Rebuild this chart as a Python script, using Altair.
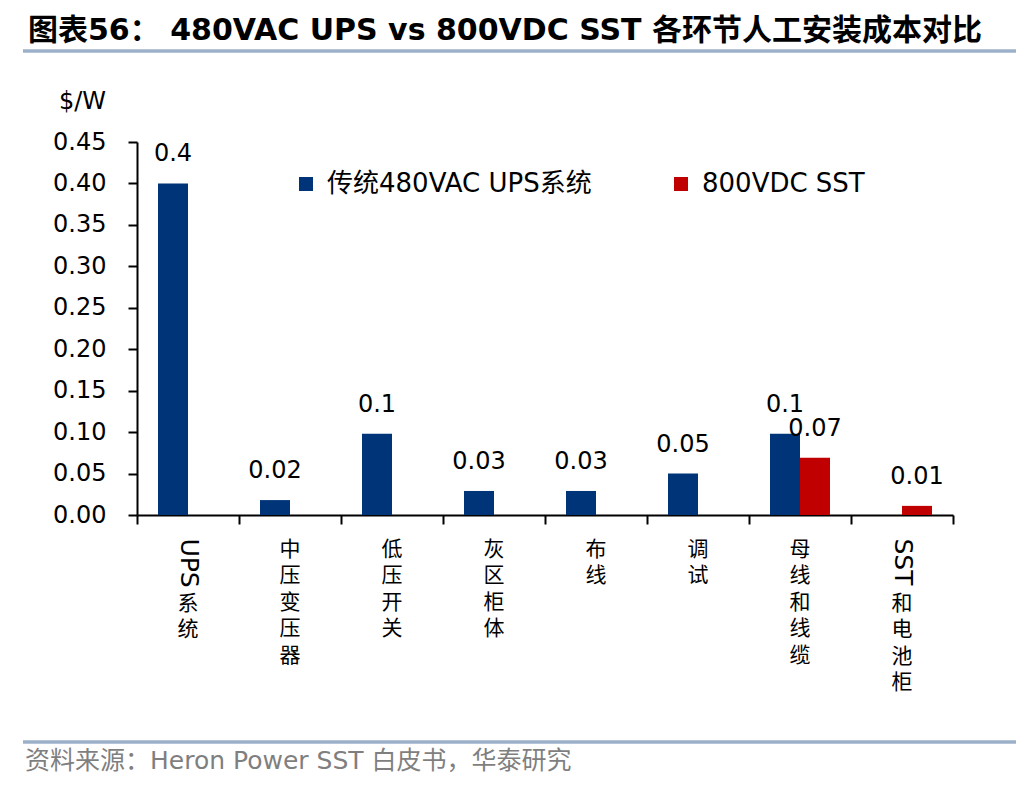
import altair as alt
import pandas as pd

CATS = ["UPS系统", "中压变压器", "低压开关", "灰区柜体", "布线", "调试", "母线和线缆", "SST和电池柜"]
SERIES = ["传统480VAC UPS系统", "800VDC SST"]
UPS_VALS = [0.40, 0.018, 0.098, 0.029, 0.029, 0.05, 0.098, None]
SST_VALS = [None, None, None, None, None, None, 0.069, 0.011]
UPS_LABELS = ["0.4", "0.02", "0.1", "0.03", "0.03", "0.05", "0.1", None]
SST_LABELS = [None, None, None, None, None, None, "0.07", "0.01"]
Y_TICKS = [0, 0.05, 0.10, 0.15, 0.20, 0.25, 0.30, 0.35, 0.40, 0.45]
COLORS = ["#003478", "#C00000"]

TITLE = "图表56：  480VAC UPS vs 800VDC SST 各环节人工安装成本对比"
SOURCE = "资料来源：Heron Power SST 白皮书，华泰研究"
Y_TITLE = "$/W"

rows = []
for c, v, l in zip(CATS, UPS_VALS, UPS_LABELS):
    if v is not None:
        rows.append({"cat": c, "series": SERIES[0], "value": v, "label": l})
for c, v, l in zip(CATS, SST_VALS, SST_LABELS):
    if v is not None:
        rows.append({"cat": c, "series": SERIES[1], "value": v, "label": l})
df = pd.DataFrame(rows)

FONT = "DejaVu Sans, Noto Sans CJK SC"
CJK = "Noto Sans CJK SC"
W, H = 816, 373

xscale = alt.Scale(domain=CATS, paddingInner=0, paddingOuter=0)
yscale = alt.Scale(domain=[0, 0.45], nice=False, zero=True)
xoff = alt.XOffset("series:N", scale=alt.Scale(domain=SERIES, paddingInner=0, paddingOuter=0.7))

HAS_LATIN = "test(regexp('[A-Za-z]'), datum.label)"

# axis A: domain, ticks and the rotated Latin part of each category label
axis_a = alt.Axis(
    orient="bottom", title=None, domainColor="black", domainWidth=2,
    tickColor="black", tickWidth=2, tickSize=9, tickBand="extent",
    labelExpr="replace(datum.label, regexp('[^A-Za-z]', 'g'), '')",
    labelAngle=90, labelAlign="left", labelBaseline="middle",
    labelFont="DejaVu Sans", labelFontSize=25, labelColor="black",
    labelPadding=14, labelOverlap=False, labelFlush=False, labelBound=False,
)
cjk_common = dict(
    orient="bottom", title=None, domain=False, ticks=False,
    labelAngle=0, labelAlign="center", labelBaseline="top",
    labelFont=CJK, labelFontSize=21, labelLineHeight=26.6, labelColor="black",
    labelOverlap=False, labelFlush=False, labelBound=False,
)
# axis B: upright stacked CJK labels of purely Chinese categories
axis_b = alt.Axis(
    labelExpr=f"{HAS_LATIN} ? '' : split(datum.label, '')",
    labelPadding=23, **cjk_common,
)
# axis C: upright stacked CJK remainder, below the rotated Latin run
axis_c = alt.Axis(
    labelExpr=f"{HAS_LATIN} ? split(replace(datum.label, regexp('[A-Za-z]+', 'g'), ''), '') : ''",
    labelPadding=77, **cjk_common,
)
yaxis = alt.Axis(
    values=Y_TICKS, format=".2f", grid=False, domainColor="black", domainWidth=2,
    tickColor="black", tickWidth=2, tickSize=9, labelPadding=22,
    labelFont="DejaVu Sans", labelFontSize=24, labelColor="black",
    title=Y_TITLE, titleAngle=0, titleX=-55, titleY=-41, titleAlign="center",
    titleBaseline="middle", titleFont="DejaVu Sans", titleFontSize=24,
    titleFontWeight="normal", titleColor="black",
)

base = alt.Chart(df)
bars = base.mark_bar().encode(
    x=alt.X("cat:N", sort=CATS, scale=xscale, axis=axis_a),
    xOffset=xoff,
    y=alt.Y("value:Q", scale=yscale, axis=yaxis),
    color=alt.Color(
        "series:N", scale=alt.Scale(domain=SERIES, range=COLORS),
        legend=alt.Legend(
            title=None, orient="none", legendX=156, legendY=29, direction="horizontal",
            columns=2, columnPadding=76, symbolType="square", symbolSize=196,
            symbolStrokeWidth=0, labelFont=FONT, labelFontSize=26, labelColor="black",
            labelOffset=8, padding=0, labelLimit=400,
        ),
    ),
)


def value_text(series, axis):
    return base.transform_filter(alt.datum.series == series).mark_text(
        font="DejaVu Sans", fontSize=24, baseline="alphabetic", dy=-22, color="black"
    ).encode(
        x=alt.X("cat:N", sort=CATS, scale=xscale, axis=axis),
        xOffset=xoff,
        y=alt.Y("value:Q", scale=yscale),
        text="label:N",
    )


texts_ups = value_text(SERIES[0], axis_b)
texts_sst = value_text(SERIES[1], axis_c)

one = pd.DataFrame({"t": [TITLE], "s": [SOURCE]})
title = alt.Chart(one).mark_text(
    font=FONT, fontSize=30, fontWeight="bold", align="left", baseline="alphabetic", color="black"
).encode(x=alt.value(-109), y=alt.value(-102), text="t:N")
rule_top = alt.Chart(one).mark_rule(color="#9CB0CA", strokeWidth=3.5).encode(
    x=alt.value(-114), x2=alt.value(879), y=alt.value(-91))
rule_bot = alt.Chart(one).mark_rule(color="#9CB0CA", strokeWidth=3.5).encode(
    x=alt.value(-114), x2=alt.value(879), y=alt.value(600))
source = alt.Chart(one).mark_text(
    font=FONT, fontSize=25, align="left", baseline="middle", color="#7F7F7F"
).encode(x=alt.value(-112), y=alt.value(619), text="s:N")

chart = alt.layer(bars, texts_ups, texts_sst, title, rule_top, rule_bot, source).resolve_axis(
    x="independent"
).properties(
    width=W, height=H,
    autosize=alt.AutoSizeParams(type="none"),
    padding={"left": 129, "top": 134, "right": 75, "bottom": 262},
).configure_view(stroke=None)

chart.save("out.html", embed_options={"renderer": "svg", "actions": False})
